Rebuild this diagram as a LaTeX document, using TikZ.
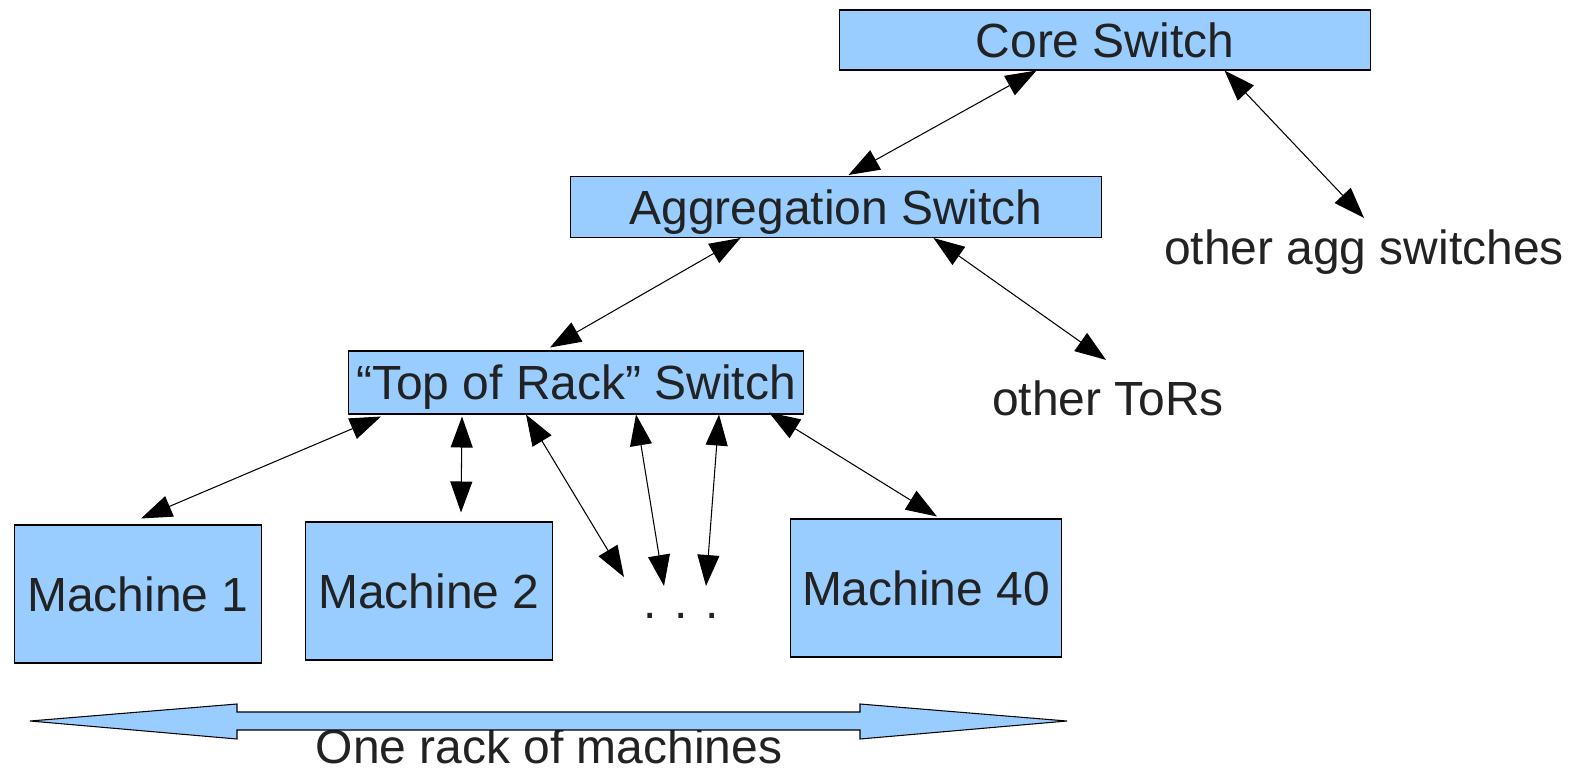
\documentclass[tikz,border=0pt]{standalone}
\usepackage{fontspec}
\setmainfont{Liberation Sans}
\usetikzlibrary{arrows.meta,calc}
\definecolor{boxfill}{HTML}{99CCFF}
\definecolor{txt}{HTML}{222222}
\begin{document}
\begin{tikzpicture}[x=0.02cm,y=-0.02cm,
  every node/.style={text=txt,font=\fontsize{27.3}{31}\selectfont},
  swbox/.style={draw=black,line width=0.6pt,fill=boxfill,inner sep=0pt,text depth=0pt},
  lbl/.style={inner sep=0pt,anchor=base},
  link/.style={line width=0.6pt,{Triangle[length=0.62cm,width=0.44cm]}-{Triangle[length=0.62cm,width=0.44cm]}}]
\useasboundingbox (0,0) rectangle (1573,771);
% boxes
\node[swbox,minimum width=10.64cm,minimum height=1.2cm] (core) at (1105,40) {Core Switch};
\node[swbox,minimum width=10.64cm,minimum height=1.22cm] (agg) at (836,207) {Aggregation Switch};
\node[swbox,minimum width=9.1cm,minimum height=1.26cm] (tor) at (576,382.5) {“Top of Rack” Switch};
\node[swbox,minimum width=4.94cm,minimum height=2.76cm] (m1) at (138,594) {Machine 1};
\node[swbox,minimum width=4.94cm,minimum height=2.76cm] (m2) at (429,591) {Machine 2};
\node[swbox,minimum width=5.42cm,minimum height=2.76cm] (m40) at (926,588) {Machine 40};
% labels
\node[lbl] (oagg) at (1364,264) {other agg switches};
\node[lbl] (otor) at (1108,415) {other ToRs};
\node[lbl] (dots) at (681,618) {. . .};
\node[lbl] (rack) at (549,763) {One rack of machines};
% connectors
\draw[link] ($(core.south west)+(198,0)$) -- ($(agg.north west)+(279,-1)$);
\draw[link] ($(core.south west)+(386,0)$) -- ($(oagg.north)+(0,-11)$);
\draw[link] ($(agg.south west)+(171,0)$) -- ($(tor.north west)+(202,-3)$);
\draw[link] ($(agg.south west)+(364,0)$) -- ($(otor.north)+(-2,-20)$);
\draw[link] ($(tor.south west)+(33,2)$) -- ($(m1.north west)+(127,-6)$);
\draw[link] ($(tor.south west)+(114,2)$) -- ($(m2.north west)+(156,-9)$);
\draw[link] ($(tor.south west)+(178,0)$) -- ($(dots.base)+(-57,-41)$);
\draw[link] ($(tor.south west)+(288,0)$) -- ($(dots.base)+(-17,-32)$);
\draw[link] ($(tor.south west)+(371,0)$) -- ($(dots.base)+(25,-32)$);
\draw[link] ($(tor.south west)+(421,-2)$) -- ($(m40.north west)+(147,-2)$);
% rack span arrow
\draw[line width=0.6pt,fill=boxfill] (30,721) -- (237,704) -- (237,712) -- (860,712) -- (860,704) -- (1067,721) -- (860,739) -- (860,730) -- (237,730) -- (237,739) -- cycle;
\end{tikzpicture}
\end{document}
